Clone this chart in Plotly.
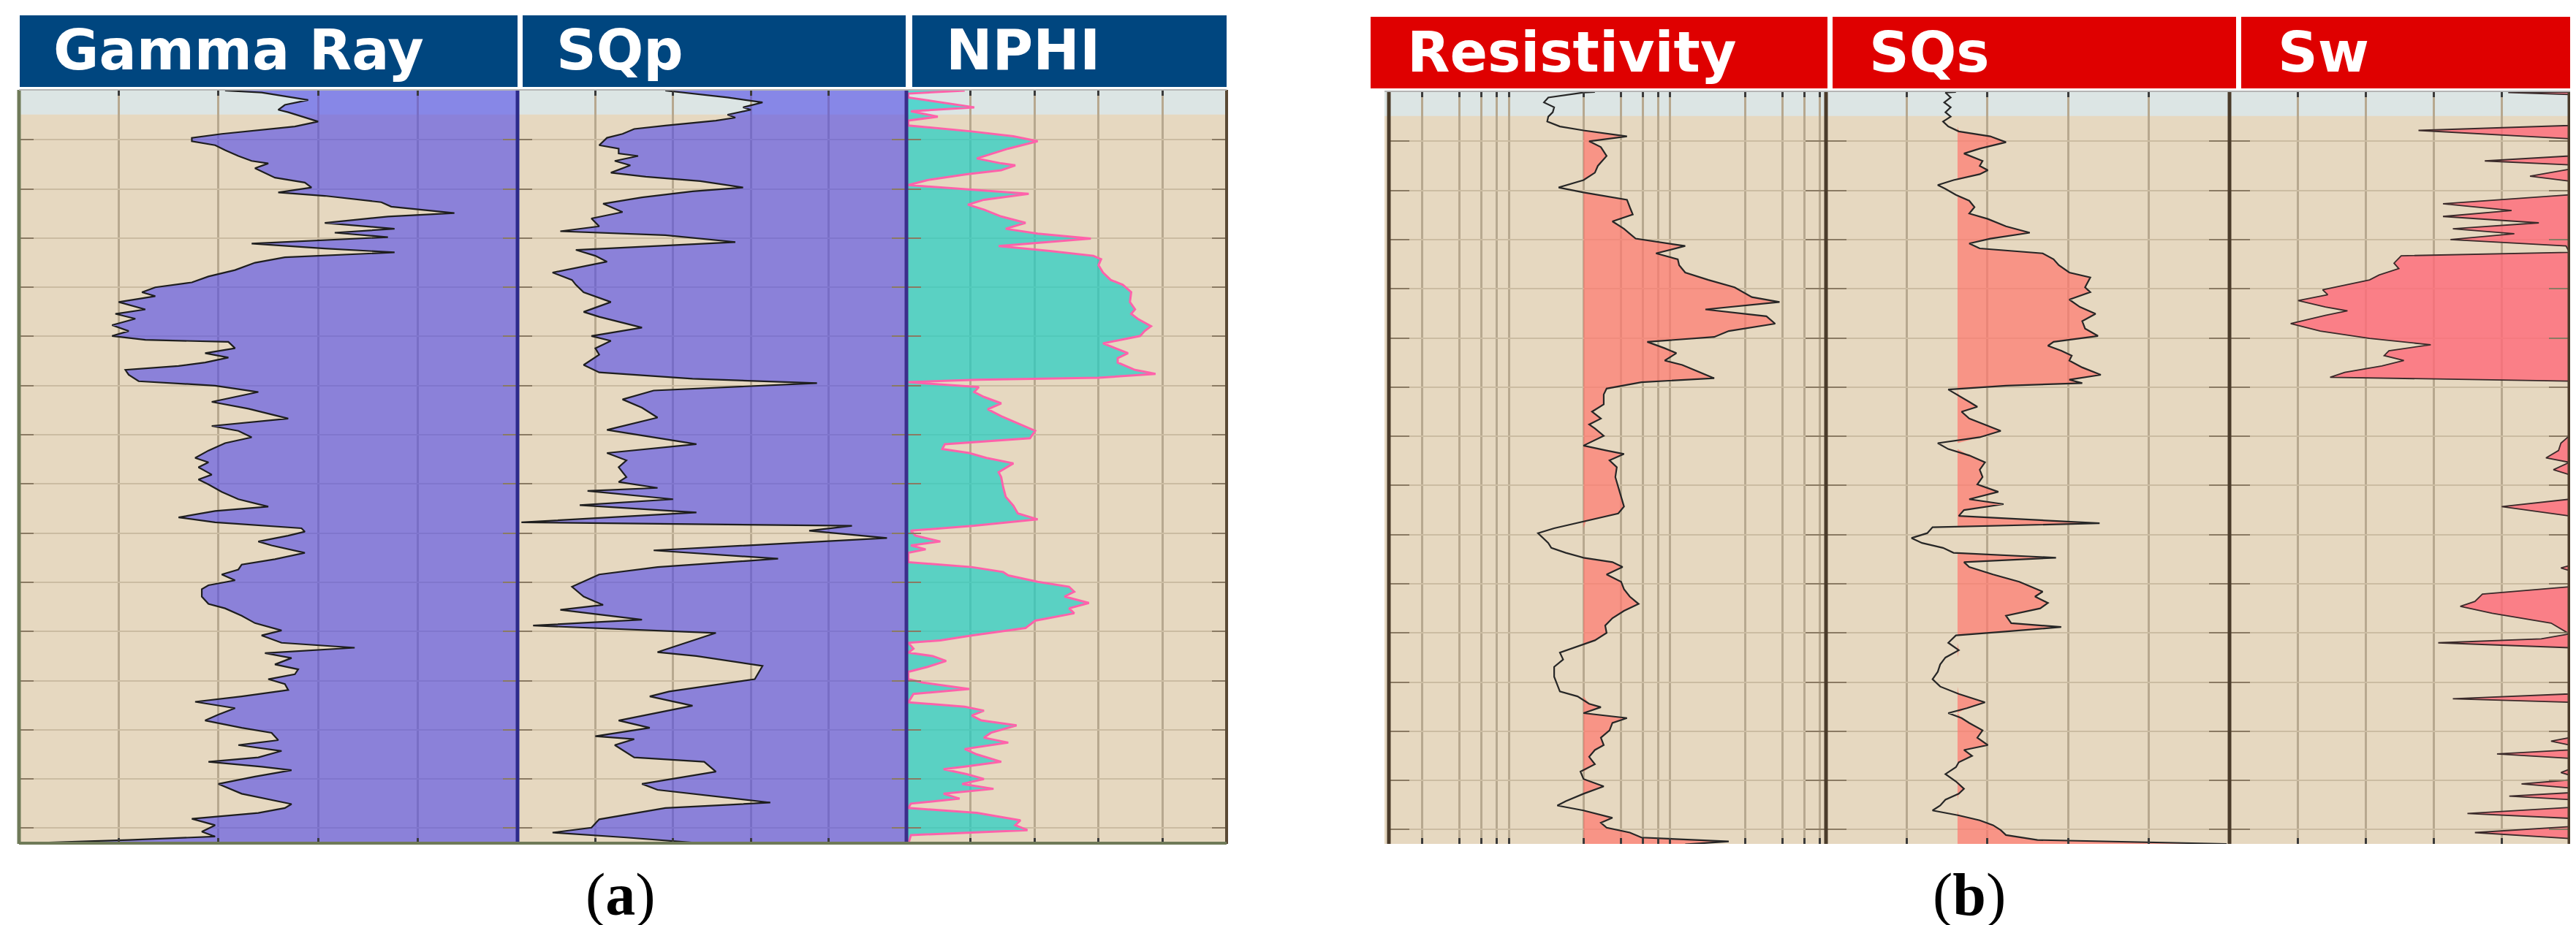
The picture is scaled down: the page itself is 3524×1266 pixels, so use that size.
import numpy as np
import plotly.graph_objects as go

W, H = 3524, 1266

# ---------------- log data ----------------
# panel (a)
GR_DEPTH = [0.0, 0.4, 1.9, 2.9, 3.9, 4.4, 6.3, 7.3, 8.8, 9.6,
            10.3, 11.1, 12.1, 13.3, 14.3, 14.8, 15.8, 16.7, 17.7, 18.7,
            19.7, 20.7, 21.4, 22.7, 23.6, 24.9, 25.6, 26.9, 28.1, 28.9,
            29.8, 31.1, 32.1, 32.9, 33.9, 35.0, 36.5, 37.8, 39.0, 40.0,
            41.0, 41.8, 43.0, 44.5, 45.4, 46.4, 47.7, 48.9, 49.9, 50.7,
            51.1, 52.4, 53.4, 54.3, 55.3, 56.0, 56.8, 57.8, 59.1, 60.0,
            61.3, 63.3, 64.7, 66.7, 68.2, 69.2, 70.5, 71.7, 73.2, 74.7,
            75.6, 76.6, 78.1, 79.1, 80.1, 81.6, 83.1, 84.6, 85.5, 86.8,
            87.8, 89.0, 89.7, 90.5, 91.7, 92.5, 94.0, 95.3, 96.4, 97.4,
            98.4, 99.6, 100.6, 101.4, 102.9, 104.4, 105.3, 106.8, 108.3, 109.8,
            110.8, 112.3, 113.3, 114.4, 115.4, 116.7, 117.7, 118.7, 119.7, 120.7,
            121.9, 123.2, 124.3, 125.6, 126.9, 128.1, 129.6, 130.6, 132.1, 133.1,
            134.3, 135.6, 136.5, 137.5, 138.2, 139.5, 141.0, 143.0, 144.4, 145.1,
            145.9, 146.9, 148.1, 149.4, 150.7, 151.7, 152.4, 152.9, 153.4]
GR_API = [62, 73, 87, 80, 78, 81, 90, 83, 61, 52,
          52, 59, 62, 66, 70, 75, 71, 74, 77, 86,
          88, 78, 92, 109, 112, 131, 111, 92, 113, 95,
          111, 70, 92, 113, 80, 71, 65, 57, 52, 41,
          37, 41, 30, 38, 29, 35, 28, 33, 28, 38,
          63, 65, 56, 63, 56, 48, 32, 33, 36, 59,
          72, 58, 69, 81, 58, 66, 70, 62, 57, 53,
          57, 54, 58, 54, 57, 61, 66, 75, 59, 48,
          59, 85, 86, 81, 72, 76, 86, 77, 67, 66,
          61, 65, 57, 55, 55, 57, 62, 67, 71, 79,
          73, 79, 101, 74, 82, 77, 84, 83, 75, 80,
          81, 67, 53, 65, 60, 56, 67, 76, 78, 66,
          79, 72, 57, 73, 82, 71, 60, 67, 77, 82,
          80, 72, 52, 59, 55, 59, 33, 9, 18]

SQP_DEPTH = [0.0, 1.4, 2.4, 3.4, 3.9, 4.9, 5.5, 6.1, 7.1, 7.8,
             8.8, 9.6, 11.1, 11.8, 12.8, 13.3, 14.3, 15.2, 16.7, 17.5,
             18.4, 19.7, 20.5, 21.7, 23.0, 24.7, 26.0, 27.6, 28.6, 29.4,
             30.8, 32.4, 33.6, 34.8, 37.0, 38.5, 39.5, 41.0, 43.0, 45.0,
             46.0, 48.2, 49.9, 50.9, 52.4, 53.7, 55.8, 57.3, 58.6, 59.5,
             61.0, 62.8, 64.5, 66.5, 69.0, 71.9, 73.7, 75.2, 76.6, 78.6,
             79.6, 80.8, 81.4, 83.1, 84.3, 85.8, 87.8, 88.5, 89.5, 91.0,
             93.5, 95.2, 96.9, 98.4, 100.9, 102.9, 104.6, 105.6, 107.6, 108.8,
             110.3, 114.2, 115.0, 117.0, 119.7, 122.2, 123.2, 125.1, 128.1, 129.6,
             131.3, 131.9, 133.1, 135.6, 136.5, 138.5, 141.0, 142.2, 144.8, 145.9,
             148.2, 149.9, 150.9, 151.9, 153.3]
SQP_VAL = [38, 54, 63, 58, 60, 54, 56, 51, 38, 30,
           27, 23, 21, 26, 26, 31, 25, 29, 24, 33,
           47, 58, 45, 32, 22, 27, 19, 21, 11, 38,
           56, 15, 20, 23, 9, 14, 15, 17, 24, 17,
           21, 32, 19, 24, 20, 21, 17, 21, 45, 77,
           35, 27, 32, 36, 23, 46, 23, 28, 26, 28,
           26, 36, 18, 40, 16, 46, 1, 86, 75, 95,
           35, 67, 36, 21, 14, 17, 22, 11, 32, 4,
           51, 36, 46, 63, 61, 39, 34, 45, 26, 34,
           20, 30, 25, 30, 48, 51, 32, 36, 65, 38,
           21, 19, 9, 28, 51]

NPHI_DEPTH = [0.0, 0.6, 1.4, 3.4, 4.2, 5.3, 6.1, 7.1, 8.3, 9.3,
              10.3, 11.8, 13.8, 14.8, 15.2, 16.2, 17.0, 18.2, 19.2, 20.2,
              21.0, 22.2, 23.2, 24.2, 25.6, 26.9, 28.1, 29.1, 30.1, 31.6,
              32.6, 33.6, 34.3, 35.5, 37.0, 38.5, 39.5, 41.0, 43.0, 44.5,
              45.4, 46.4, 47.9, 48.9, 49.9, 51.4, 53.4, 54.4, 55.3, 56.8,
              57.6, 58.4, 58.8, 59.3, 60.3, 61.3, 62.3, 63.6, 64.8, 66.2,
              67.7, 68.7, 69.2, 70.7, 71.9, 72.9, 73.7, 74.7, 75.8, 77.6,
              78.6, 80.6, 82.6, 84.4, 86.0, 87.2, 88.5, 89.5, 90.5, 91.7,
              92.5, 93.3, 94.0, 95.9, 96.9, 97.9, 98.6, 99.9, 100.9, 101.9,
              102.9, 104.2, 105.3, 106.3, 107.8, 109.3, 110.8, 111.8, 112.3, 113.5,
              114.3, 115.0, 116.0, 117.2, 118.2, 119.7, 120.4, 121.7, 122.7, 124.4,
              125.3, 126.1, 127.1, 128.1, 129.1, 130.6, 131.6, 132.6, 133.9, 135.0,
              136.5, 137.5, 138.0, 139.0, 140.0, 141.0, 142.0, 143.0, 144.0, 145.0,
              145.9, 146.9, 148.4, 149.4, 150.4, 151.4, 153.2]
NPHI_PCT = [9.1, 0.3, 0.3, 10.6, 0.7, 4.9, 0.3, 0.3, 10.2, 16.7,
            20.5, 15.9, 11.0, 14.8, 17.0, 14.8, 9.4, 3.3, 0.3, 11.0,
            19.1, 12.1, 9.6, 12.1, 14.8, 18.6, 15.5, 20.5, 28.8, 14.4,
            22.4, 29.2, 30.4, 30.0, 30.7, 31.9, 33.8, 35.1, 34.9, 35.7,
            35.1, 36.1, 38.2, 37.2, 36.5, 30.7, 34.6, 33.0, 33.0, 35.7,
            38.9, 30.0, 11.0, 0.3, 11.3, 10.6, 12.1, 14.8, 12.7, 14.8,
            17.4, 19.3, 20.1, 19.3, 6.0, 5.6, 9.8, 12.5, 16.7, 14.4,
            14.8, 15.1, 15.5, 16.7, 17.4, 20.5, 10.6, 0.7, 1.4, 5.3,
            0.7, 3.0, 0.3, 0.3, 10.2, 15.1, 15.9, 20.5, 25.4, 26.2,
            24.7, 28.5, 25.4, 26.2, 20.1, 18.6, 10.2, 5.3, 0.3, 1.1,
            0.3, 4.1, 6.2, 3.3, 0.3, 0.3, 2.6, 9.8, 1.1, 0.3,
            9.1, 12.1, 10.2, 11.7, 17.2, 13.2, 12.1, 15.9, 9.1, 11.0,
            14.8, 9.1, 5.8, 9.4, 12.1, 8.7, 13.6, 5.8, 8.3, 0.7,
            0.3, 11.0, 17.8, 17.0, 18.9, 0.7, 0.3]

# panel (b)
RES_DEPTH = [0.0, 0.1, 1.1, 2.1, 3.1, 4.1, 5.0, 6.0, 7.0, 7.8,
             9.0, 10.0, 11.2, 13.0, 15.0, 16.4, 17.9, 19.4, 20.4, 21.9,
             23.4, 24.9, 26.3, 27.8, 28.8, 29.8, 31.3, 32.8, 34.0, 35.2,
             36.7, 38.2, 39.7, 41.7, 42.7, 44.2, 45.6, 47.1, 48.6, 49.8,
             50.8, 52.1, 53.1, 54.6, 55.5, 57.0, 58.2, 59.0, 60.3, 61.5,
             63.5, 65.0, 66.4, 67.6, 68.4, 69.9, 71.9, 72.9, 73.6, 74.9,
             76.3, 78.3, 80.3, 82.3, 84.3, 85.7, 87.2, 88.7, 89.7, 90.7,
             91.7, 92.7, 93.7, 94.7, 95.6, 96.6, 98.1, 99.6, 101.1, 102.6,
             104.1, 105.5, 107.0, 108.5, 110.0, 111.5, 112.5, 114.0, 115.4, 116.9,
             118.9, 120.4, 121.9, 122.9, 124.4, 125.1, 126.3, 127.3, 128.3, 129.8,
             131.3, 132.8, 133.8, 135.2, 136.7, 138.2, 139.7, 141.2, 142.7, 144.2,
             145.1, 146.1, 147.6, 148.6, 149.6, 150.6, 151.6, 152.4, 153.0]
RES_OHMM = [24.7, 20.0, 10.4, 9.6, 11.6, 11.3, 10.4, 10.2, 12.9, 20.0,
            44.8, 22.2, 27.6, 30.7, 26.1, 24.7, 20.0, 12.6, 20.0, 44.8,
            47.2, 49.9, 34.2, 42.4, 47.2, 52.6, 132, 76.8, 115, 118,
            132, 203, 330, 455, 760, 192, 596, 700, 296, 226,
            65.3, 90.3, 112, 90.3, 125, 173, 226, 58.6, 30.7, 29.1,
            29.1, 23.4, 27.6, 22.2, 24.7, 29.1, 20.0, 30.7, 42.4, 32.4,
            37.1, 36.1, 38.1, 40.2, 42.4, 38.1, 21.0, 11.6, 8.6, 9.4,
            10.4, 11.0, 14.4, 20.0, 34.2, 41.3, 30.7, 40.2, 42.4, 47.2,
            55.6, 42.4, 34.2, 29.9, 30.7, 24.7, 18.9, 12.9, 13.7, 11.6,
            11.6, 12.3, 12.9, 17.9, 22.2, 27.6, 20.0, 44.8, 34.2, 32.4,
            27.6, 29.1, 24.7, 22.2, 24.7, 18.9, 20.0, 29.1, 20.0, 14.4,
            12.3, 20.0, 34.2, 27.6, 30.7, 47.2, 58.6, 296, 132]
RES_CUTOFF = 20.0

SQS_DEPTH = [0.0, 0.1, 1.1, 2.1, 3.1, 4.1, 5.0, 6.0, 7.0, 8.0,
             9.0, 10.2, 11.5, 12.5, 14.0, 15.0, 15.9, 16.7, 17.9, 18.9,
             19.7, 20.9, 22.1, 23.4, 24.7, 25.8, 27.3, 28.6, 29.8, 30.8,
             31.8, 32.8, 34.0, 35.2, 36.7, 37.7, 39.7, 40.7, 42.2, 43.7,
             45.1, 46.6, 48.1, 49.6, 50.8, 51.6, 52.6, 53.6, 54.6, 56.0,
             57.5, 58.5, 59.2, 59.7, 60.5, 61.7, 63.0, 64.0, 65.0, 66.4,
             67.9, 68.9, 70.2, 71.4, 72.6, 73.9, 75.3, 76.8, 78.3, 79.8,
             81.3, 82.8, 83.8, 85.0, 86.2, 87.7, 88.5, 89.7, 90.7, 91.7,
             92.7, 93.7, 94.7, 95.6, 96.6, 98.1, 99.6, 101.6, 102.6, 103.9,
             105.0, 106.5, 108.0, 108.8, 109.8, 110.5, 112.0, 113.5, 115.0, 116.4,
             117.9, 119.4, 120.9, 122.4, 124.1, 125.3, 126.3, 127.3, 128.3, 129.8,
             131.3, 132.8, 133.8, 135.0, 136.3, 137.3, 138.7, 140.2, 141.7, 142.7,
             143.9, 145.1, 146.1, 147.1, 148.1, 149.1, 150.1, 151.1, 152.1, 152.9]
SQS_VAL = [32.2, 29.6, 30.9, 29.3, 30.9, 29.6, 30.9, 29.0, 30.3, 32.9,
           40.7, 44.6, 38.1, 34.2, 38.8, 38.1, 40.1, 38.1, 31.6, 27.7,
           29.6, 32.2, 35.5, 36.8, 35.5, 40.1, 44.6, 50.5, 40.7, 35.5,
           38.1, 53.7, 56.4, 57.7, 60.3, 65.5, 64.2, 65.5, 60.3, 62.9,
           66.8, 63.5, 64.2, 67.4, 56.4, 55.0, 58.3, 60.9, 60.3, 63.5,
           68.1, 60.3, 63.5, 44.6, 30.3, 32.9, 35.5, 37.5, 33.6, 35.5,
           40.1, 43.3, 38.1, 27.7, 30.3, 35.5, 39.4, 38.1, 38.8, 37.5,
           42.7, 35.5, 44.0, 34.2, 32.9, 67.8, 26.4, 25.1, 21.2, 23.8,
           29.0, 31.6, 57.0, 34.2, 35.5, 41.4, 47.9, 53.7, 51.8, 55.0,
           53.1, 44.6, 45.9, 58.3, 43.3, 32.2, 30.3, 32.9, 29.6, 28.3,
           27.7, 26.4, 28.3, 32.9, 39.4, 34.9, 30.3, 33.6, 35.5, 38.8,
           37.5, 40.1, 34.2, 36.2, 32.9, 32.2, 29.6, 32.2, 34.2, 32.9,
           29.6, 28.3, 26.4, 32.9, 38.1, 41.4, 43.3, 44.6, 52.4, 99.3]
SQS_CUTOFF = 32.6

SW_DEPTH = [0.0, 0.1, 0.5, 6.8, 7.8, 9.5, 13.0, 14.0, 14.8, 15.7,
            17.1, 18.1, 20.9, 22.7, 24.1, 25.3, 26.6, 27.8, 28.8, 30.0,
            31.3, 32.6, 33.3, 34.8, 35.9, 37.2, 38.2, 39.2, 40.2, 41.2,
            42.4, 43.7, 44.5, 45.4, 47.1, 48.6, 50.1, 51.4, 52.6, 53.6,
            54.6, 55.7, 57.0, 58.0, 58.8, 69.9, 71.4, 72.9, 74.4, 75.3,
            76.8, 77.8, 82.8, 84.3, 86.2, 96.3, 96.8, 97.3, 100.6, 102.1,
            103.6, 104.6, 106.0, 108.0, 109.2, 110.2, 111.2, 112.0, 113.0, 122.4,
            123.4, 124.1, 131.3, 132.0, 132.8, 133.8, 134.6, 135.5, 137.7, 138.4,
            138.9, 139.9, 140.7, 141.5, 142.5, 143.2, 143.9, 145.5, 146.7, 147.7,
            149.4, 150.6, 151.8, 152.9]
SW_FRAC = [1.0, 0.82, 1.0, 1.0, 0.556, 1.0, 1.0, 0.751, 1.0, 1.0,
           0.884, 1.0, 1.0, 0.628, 0.83, 0.628, 0.91, 0.657, 0.838, 0.65,
           0.99, 1.0, 0.505, 0.484, 0.498, 0.44, 0.412, 0.339, 0.274, 0.289,
           0.202, 0.282, 0.347, 0.282, 0.18, 0.267, 0.412, 0.592, 0.469, 0.455,
           0.513, 0.448, 0.339, 0.296, 1.0, 1.0, 0.975, 0.968, 0.931, 1.0,
           0.953, 1.0, 1.0, 0.801, 1.0, 1.0, 0.975, 1.0, 1.0, 0.744,
           0.722, 0.679, 0.773, 0.946, 0.975, 1.0, 0.917, 0.614, 1.0, 1.0,
           0.657, 1.0, 1.0, 0.946, 1.0, 1.0, 0.787, 1.0, 1.0, 0.975,
           1.0, 1.0, 0.859, 1.0, 1.0, 0.823, 1.0, 1.0, 0.7, 1.0,
           1.0, 0.722, 1.0, 1.0]

# grid / scale values of each track
DEPTH_TICKS = list(range(10, 151, 10))
TOP_ZONE_BASE = 4.85
GR_TICKS = [30, 60, 90, 120]
SQP_TICKS = [20, 40, 60, 80]
NPHI_TICKS = [10, 20, 30, 40]
RES_TICKS = [1, 2, 3, 4, 5, 20, 40, 60, 80, 100, 400, 800, 1200, 1600]
SQS_TICKS = [20, 40, 60, 80]
SW_TICKS = [0.2, 0.4, 0.6, 0.8]

HEADERS_A = ["Gamma Ray", "SQp", "NPHI"]
HEADERS_B = ["Resistivity", "SQs", "Sw"]

for a, b in [(GR_DEPTH, GR_API), (SQP_DEPTH, SQP_VAL), (NPHI_DEPTH, NPHI_PCT),
             (RES_DEPTH, RES_OHMM), (SQS_DEPTH, SQS_VAL), (SW_DEPTH, SW_FRAC)]:
    assert len(a) == len(b)

# ---------------- styling ----------------
TAN = "#e6d8c0"
BAND = "#dce5e4"
NAVY = "#00467f"
RED = "#df0000"
XGRID = "#b7a88f"
YGRID = "#cbbca2"
YTICK = "#8a7a63"


def px_x(p):
    return p / W


def px_y(p):
    return 1 - p / H


panels = {
    "a": dict(top=115, bottom=1147, yrange=[153.2, -0.15], ticklen=20),
    "b": dict(top=117, bottom=1147, yrange=[152.9, -0.15], ticklen=28),
}

tracks = [
    dict(panel="a", px=(18, 700), range=[0, 150], tickvals=GR_TICKS, type="linear"),
    dict(panel="a", px=(700, 1232), range=[0, 100], tickvals=SQP_TICKS, type="linear"),
    dict(panel="a", px=(1232, 1670), range=[0, 50], tickvals=NPHI_TICKS, type="linear"),
    dict(panel="b", px=(1892, 2490), range=[np.log10(0.54), np.log10(1800)], tickvals=RES_TICKS, type="log"),
    dict(panel="b", px=(2490, 3042), range=[0, 100], tickvals=SQS_TICKS, type="linear"),
    dict(panel="b", px=(3042, 3507), range=[0, 1], tickvals=SW_TICKS, type="linear"),
]

fig = go.Figure()
layout = {}
for i, t in enumerate(tracks, start=1):
    p = panels[t["panel"]]
    sfx = "" if i == 1 else str(i)
    layout["xaxis" + sfx] = dict(
        domain=[px_x(t["px"][0]), px_x(t["px"][1])], range=t["range"], type=t["type"],
        tickvals=t["tickvals"], showticklabels=False, showgrid=True, gridcolor=XGRID,
        gridwidth=3, ticks="inside", ticklen=8, tickwidth=3, tickcolor="#3a3a3a",
        mirror="ticks", showline=False, zeroline=False, anchor="y" + sfx, fixedrange=True)
    layout["yaxis" + sfx] = dict(
        domain=[px_y(p["bottom"]), px_y(p["top"])], range=p["yrange"],
        tickvals=DEPTH_TICKS, showticklabels=False, showgrid=True, gridcolor=YGRID,
        gridwidth=2, ticks="inside", ticklen=p["ticklen"], tickwidth=2, tickcolor=YTICK,
        mirror="ticks", showline=False, zeroline=False, anchor="x" + sfx, fixedrange=True)


def ax_refs(i):
    sfx = "" if i == 1 else str(i)
    return "x" + sfx, "y" + sfx


def add_fill(i, depth, vals, base, color):
    xa, ya = ax_refs(i)
    fig.add_trace(go.Scatter(x=[base, base], y=[depth[0], depth[-1]], mode="lines",
                             line=dict(width=0), xaxis=xa, yaxis=ya, hoverinfo="skip"))
    fig.add_trace(go.Scatter(x=vals, y=depth, mode="lines", line=dict(width=0),
                             fill="tonextx", fillcolor=color, xaxis=xa, yaxis=ya,
                             hoverinfo="skip"))


def add_curve(i, depth, vals, color, width):
    xa, ya = ax_refs(i)
    fig.add_trace(go.Scatter(x=vals, y=depth, mode="lines",
                             line=dict(color=color, width=width), xaxis=xa, yaxis=ya))


PURPLE = "rgba(79,72,233,0.6)"
TEAL = "rgba(30,207,196,0.7)"
SALMON = "rgba(255,120,110,0.7)"
PINK = "rgba(255,105,120,0.8)"

# Gamma ray / SQp : shaded from curve to the right edge
add_fill(1, GR_DEPTH, GR_API, 150, PURPLE)
add_curve(1, GR_DEPTH, GR_API, "#1e1e1e", 2.2)
add_fill(2, SQP_DEPTH, SQP_VAL, 100, PURPLE)
add_curve(2, SQP_DEPTH, SQP_VAL, "#1e1e1e", 2.2)
# NPHI : shaded from left edge to curve
add_fill(3, NPHI_DEPTH, NPHI_PCT, 0, TEAL)
add_curve(3, NPHI_DEPTH, NPHI_PCT, "#ff62aa", 3)
# Resistivity / SQs : shaded only above the cutoff
add_fill(4, RES_DEPTH, np.maximum(RES_OHMM, RES_CUTOFF), RES_CUTOFF, SALMON)
add_curve(4, RES_DEPTH, RES_OHMM, "#262626", 2.2)
add_fill(5, SQS_DEPTH, np.maximum(SQS_VAL, SQS_CUTOFF), SQS_CUTOFF, SALMON)
add_curve(5, SQS_DEPTH, SQS_VAL, "#262626", 2.2)
# Sw : shaded from curve to 1
add_fill(6, SW_DEPTH, SW_FRAC, 1.0, PINK)
add_curve(6, SW_DEPTH, SW_FRAC, "#3a2a2a", 1.8)

shapes = []
# backgrounds: tan margin of panel (b) and the pale top zone
shapes.append(dict(type="rect", xref="paper", yref="paper", x0=px_x(1886), x1=px_x(3521),
                   y0=px_y(1147), y1=px_y(117), fillcolor=TAN, line=dict(width=0), layer="below"))
shapes.append(dict(type="rect", xref="paper", yref="y", x0=px_x(18), x1=px_x(1670),
                   y0=panels["a"]["yrange"][1], y1=TOP_ZONE_BASE, fillcolor=BAND,
                   line=dict(width=0), layer="below"))
shapes.append(dict(type="rect", xref="paper", yref="y4", x0=px_x(1886), x1=px_x(3521),
                   y0=panels["b"]["yrange"][1], y1=TOP_ZONE_BASE, fillcolor=BAND,
                   line=dict(width=0), layer="below"))

# track borders
borders = [(18, "a", "#6f7a58", 5), (700, "a", "#2c2a8a", 5), (1232, "a", "#3b2e8a", 5),
           (1670, "a", "#5a4934", 4),
           (1892, "b", "#4a3b2a", 5), (2490, "b", "#4a3b2a", 5), (3042, "b", "#4a3b2a", 5),
           (3507, "b", "#4a3b2a", 5)]
for xp, pn, col, lw in borders:
    p = panels[pn]
    shapes.append(dict(type="line", xref="paper", yref="paper", x0=px_x(xp), x1=px_x(xp),
                       y0=px_y(p["bottom"]), y1=px_y(p["top"]), line=dict(color=col, width=lw)))
shapes.append(dict(type="line", xref="paper", yref="paper", x0=px_x(18), x1=px_x(1670),
                   y0=px_y(1146), y1=px_y(1146), line=dict(color="#6f7a58", width=4)))
for x0, x1, yt in [(18, 1670, 115), (1886, 3521, 117)]:
    shapes.append(dict(type="line", xref="paper", yref="paper", x0=px_x(x0), x1=px_x(x1),
                       y0=px_y(yt), y1=px_y(yt), line=dict(color="#b5b5b5", width=2)))

# header boxes
annotations = []
head_a = [(19, 700), (707, 1231), (1240, 1670)]
head_b = [(1867, 2492), (2499, 3051), (3058, 3512)]
for (l, r), txt in zip(head_a, HEADERS_A):
    shapes.append(dict(type="rect", xref="paper", yref="paper", x0=px_x(l), x1=px_x(r),
                       y0=px_y(111), y1=px_y(13), fillcolor=NAVY, line=dict(width=0)))
    annotations.append(dict(x=px_x(l + 44), y=px_y(61), xref="paper", yref="paper",
                            text="<b>%s</b>" % txt, showarrow=False, xanchor="left",
                            yanchor="middle",
                            font=dict(family="DejaVu Sans", size=76, color="white")))
for (l, r), txt in zip(head_b, HEADERS_B):
    shapes.append(dict(type="rect", xref="paper", yref="paper", x0=px_x(l), x1=px_x(r),
                       y0=px_y(113), y1=px_y(15), fillcolor=RED, line=dict(width=0)))
    annotations.append(dict(x=px_x(l + 48), y=px_y(63), xref="paper", yref="paper",
                            text="<b>%s</b>" % txt, showarrow=False, xanchor="left",
                            yanchor="middle",
                            font=dict(family="DejaVu Sans", size=76, color="white")))

for cx, lab in [(841, "a"), (2686, "b")]:
    annotations.append(dict(x=px_x(cx), y=px_y(1216), xref="paper", yref="paper",
                            text="(<b>%s</b>)" % lab, showarrow=False,
                            xanchor="center", yanchor="middle",
                            font=dict(family="Liberation Serif", size=82, color="black")))

layout.update(
    width=W, height=H, margin=dict(l=0, r=0, t=0, b=0),
    paper_bgcolor="white", plot_bgcolor=TAN, showlegend=False,
    shapes=shapes, annotations=annotations,
)
fig.update_layout(**layout)

fig.write_html("out.html")
